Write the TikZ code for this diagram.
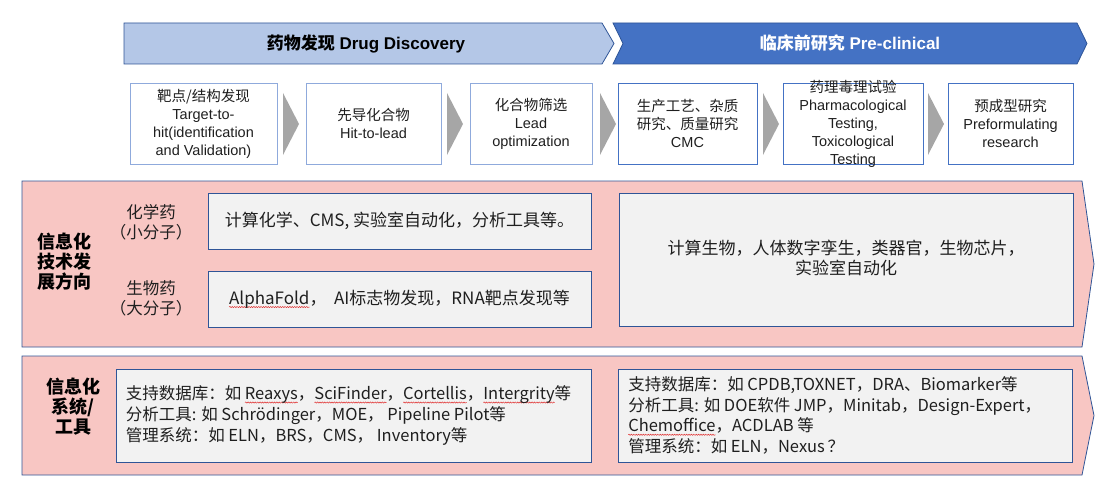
\documentclass[tikz,border=0pt]{standalone}
\usepackage{fontspec}
\setmainfont{Liberation Sans}
\newfontfamily\cjk{Noto Sans CJK SC}
\usetikzlibrary{decorations.pathmorphing}
\definecolor{hdrlight}{HTML}{B4C7E7}
\definecolor{hdrdark}{HTML}{4472C4}
\definecolor{edgeblue}{HTML}{2F5597}
\definecolor{lightedge}{HTML}{8FAADC}
\definecolor{midedge}{HTML}{4472C4}
\definecolor{panelpink}{HTML}{F8C6C3}
\definecolor{panelgray}{HTML}{F2F2F2}
\definecolor{arrowgray}{HTML}{A6A6A6}
\definecolor{spellred}{HTML}{E03030}
\definecolor{txt}{HTML}{1F1F1F}
\newlength\rwlen
\newcommand\redwave[1]{\settowidth\rwlen{#1}\tikz[overlay,baseline=0pt,x=1pt,y=1pt]\draw[spellred,line width=0.5pt,decorate,decoration={snake,amplitude=0.6pt,segment length=2.4pt}] (0,-2.8) -- (\rwlen,-2.8);#1}
\tikzset{
  topbox/.style={draw=#1, line width=0.9pt, fill=white, minimum height=81pt, inner sep=0pt},
  toptext/.style={align=center, text=txt, font=\fontsize{14.5}{18}\selectfont, inner sep=0pt},
  panel/.style={draw=edgeblue, line width=0.8pt, fill=panelpink},
  graybox/.style={draw=edgeblue, line width=0.9pt, fill=panelgray, inner sep=0pt},
  boxtext/.style={text=txt, font=\cjk\fontsize{16.5}{20.8}\selectfont, inner sep=0pt},
  midtext/.style={text=txt, font=\cjk\fontsize{17}{20}\selectfont, inner sep=0pt},
  sidelabel/.style={align=center, text=black, font=\cjk\bfseries\fontsize{18}{20}\selectfont, inner sep=0pt},
  sublabel/.style={align=center, text=txt, font=\cjk\fontsize{16.5}{20}\selectfont, inner sep=0pt},
  grayarrow/.style={fill=arrowgray, draw=none}
}
\begin{document}
\begin{tikzpicture}[x=1pt, y=-1pt]
\useasboundingbox (0,0) rectangle (1101,495);
% headers
\draw[draw=edgeblue, line width=0.8pt, fill=hdrlight] (124,23) -- (602,23) -- (614,43.5) -- (602,64) -- (124,64) -- cycle;
\node[font=\bfseries\fontsize{17}{20}\selectfont, text=black] (h1) at (366,43.5) {{\cjk 药物发现} Drug Discovery};
\draw[draw=edgeblue, line width=0.8pt, fill=hdrdark] (613,23) -- (1077,23) -- (1087,43.5) -- (1077,64) -- (613,64) -- (623,43.5) -- cycle;
\node[font=\bfseries\fontsize{17}{20}\selectfont, text=white] (h2) at (850,43.5) {{\cjk 临床前研究} Pre-clinical};
% top stage boxes
\node[topbox=lightedge, minimum width=147pt] (t1) at (203.5,123.5) {};
\node[topbox=lightedge, minimum width=135pt] (t2) at (373.5,123.5) {};
\node[topbox=lightedge, minimum width=122pt] (t3) at (531,123.5) {};
\node[topbox=midedge, minimum width=139pt] (t4) at (687.5,123.5) {};
\node[topbox=midedge, minimum width=140pt] (t5) at (853,123.5) {};
\node[topbox=midedge, minimum width=125pt] (t6) at (1010.5,123.5) {};
\node[toptext] (t1t) at (t1) {{\cjk 靶点/结构发现}\\Target-to-\\hit(identification\\and Validation)};
\node[toptext] (t2t) at (t2) {{\cjk 先导化合物}\\Hit-to-lead};
\node[toptext] (t3t) at (t3) {{\cjk 化合物筛选}\\Lead\\optimization};
\node[toptext] (t4t) at (t4) {{\cjk 生产工艺、杂质}\\{\cjk 研究、质量研究}\\CMC};
\node[toptext] (t5t) at (t5) {{\cjk 药理毒理试验}\\Pharmacological\\Testing,\\Toxicological\\Testing};
\node[toptext] (t6t) at (t6) {{\cjk 预成型研究}\\Preformulating\\research};
\foreach \ax in {283,447,600,763,928}{
  \fill[grayarrow] (\ax,93) -- (\ax+16,124) -- (\ax,155) -- cycle;
}
% middle panel
\draw[panel] (22,181) -- (1082,181) -- (1094,264) -- (1082,347) -- (22,347) -- cycle;
\node[sidelabel] (l1) at (64,261.5) {信息化\\技术发\\展方向};
\node[sublabel] (s1) at (151,222.5) {化学药\\（小分子）};
\node[sublabel] (s2) at (151,298) {生物药\\（大分子）};
\node[graybox, minimum width=383pt, minimum height=56pt] (ma) at (399.5,221) {};
\node[midtext] (mat) at (ma) {计算化学、CMS, 实验室自动化，分析工具等。};
\node[graybox, minimum width=383pt, minimum height=56pt] (mb) at (399.5,299) {};
\node[midtext] (mbt) at (mb) {\redwave{AlphaFold}，\ \ AI标志物发现，RNA靶点发现等};
\node[graybox, minimum width=454pt, minimum height=133pt] (mc) at (846,259.5) {};
\node[midtext, align=center] (mct) at ([yshift=1.5pt]mc.center) {计算生物，人体数字孪生，类器官，生物芯片，\\实验室自动化};
% bottom panel
\draw[panel] (22,356) -- (1082,356) -- (1094,415.5) -- (1082,475) -- (22,475) -- cycle;
\node[sidelabel] (l2) at (73,406.5) {信息化\\系统/\\工具};
\node[graybox, minimum width=475pt, minimum height=93pt] (bd) at (353.5,415.5) {};
\node[boxtext, align=left, anchor=west] (bdt) at ([xshift=10pt]bd.west) {支持数据库：如 \redwave{Reaxys}，\redwave{SciFinder}，\redwave{Cortellis}，\redwave{Intergrity}等\\分析工具: 如 Schrödinger，MOE，\ Pipeline Pilot等\\管理系统：如 ELN，BRS，CMS，\ Inventory等};
\node[graybox, minimum width=454pt, minimum height=93pt] (be) at (845.5,415.5) {};
\node[boxtext, align=left, anchor=west] (bet) at ([xshift=10pt]be.west) {支持数据库：如 CPDB,TOXNET，DRA、Biomarker等\\分析工具: 如 DOE软件 JMP，Minitab，Design-Expert，\\\redwave{Chemoffice}，ACDLAB 等\\管理系统：如 ELN，Nexus\,？};
\end{tikzpicture}
\end{document}
